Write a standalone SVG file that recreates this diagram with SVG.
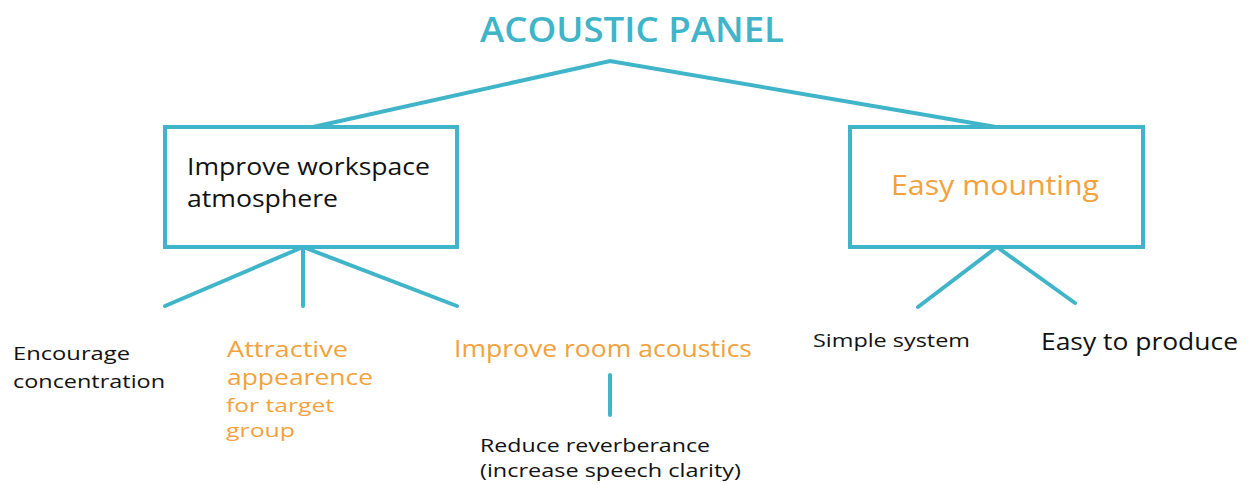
<svg xmlns="http://www.w3.org/2000/svg" width="1249" height="484" viewBox="0 0 1249 484">
<style>
text { font-family: "Open Sans", "Noto Sans", "Liberation Sans", sans-serif; }
.dark { fill: #111111; }
.orange { fill: #F2A23C; }
.teal { fill: #40B4C8; }
.box { fill: #ffffff; stroke: #40B4C8; stroke-width: 4; }
.conn line, .conn polyline { stroke: #40B4C8; stroke-width: 4; stroke-linecap: round; fill: none; }
</style>
<rect width="1249" height="484" fill="#ffffff"/>
<g id="connectors" class="conn">
  <polyline points="313,127 610,61 996,127"/>
  <line x1="303" y1="247" x2="165" y2="306"/>
  <line x1="303" y1="247" x2="303" y2="306"/>
  <line x1="303" y1="247" x2="457" y2="306"/>
  <line x1="997" y1="247" x2="918" y2="307"/>
  <line x1="997" y1="247" x2="1075" y2="303"/>
  <line x1="610" y1="375" x2="610" y2="415"/>
</g>
<g id="title">
  <text x="480" y="42" class="teal" font-size="34" font-weight="600" textLength="304" lengthAdjust="spacingAndGlyphs">ACOUSTIC PANEL</text>
</g>
<g id="node-workspace">
  <rect class="box" x="165" y="127" width="292" height="120"/>
  <text x="187" y="175" class="dark" font-size="23" textLength="243" lengthAdjust="spacingAndGlyphs">Improve workspace</text>
  <text x="187" y="207" class="dark" font-size="23" textLength="151" lengthAdjust="spacingAndGlyphs">atmosphere</text>
</g>
<g id="node-mounting">
  <rect class="box" x="850" y="127" width="293" height="120"/>
  <text x="891" y="195" class="orange" font-size="28" textLength="208" lengthAdjust="spacingAndGlyphs">Easy mounting</text>
</g>
<g id="node-concentration">
  <text x="13" y="360" class="dark" font-size="19" textLength="117" lengthAdjust="spacingAndGlyphs">Encourage</text>
  <text x="13" y="388" class="dark" font-size="19" textLength="152" lengthAdjust="spacingAndGlyphs">concentration</text>
</g>
<g id="node-attractive">
  <text x="227" y="357" class="orange" font-size="21" textLength="121" lengthAdjust="spacingAndGlyphs">Attractive</text>
  <text x="227" y="385" class="orange" font-size="21" textLength="146" lengthAdjust="spacingAndGlyphs">appearence</text>
  <text x="226" y="412" class="orange" font-size="19" textLength="108" lengthAdjust="spacingAndGlyphs">for target</text>
  <text x="226" y="437" class="orange" font-size="19" textLength="69" lengthAdjust="spacingAndGlyphs">group</text>
</g>
<g id="node-acoustics">
  <text x="454" y="357" class="orange" font-size="23" textLength="298" lengthAdjust="spacingAndGlyphs">Improve room acoustics</text>
</g>
<g id="node-reverberance">
  <text x="480" y="452" class="dark" font-size="19" textLength="230" lengthAdjust="spacingAndGlyphs">Reduce reverberance</text>
  <text x="480" y="477" class="dark" font-size="19" textLength="261" lengthAdjust="spacingAndGlyphs">(increase speech clarity)</text>
</g>
<g id="node-simple">
  <text x="813" y="347" class="dark" font-size="19" textLength="157" lengthAdjust="spacingAndGlyphs">Simple system</text>
</g>
<g id="node-produce">
  <text x="1041" y="350" class="dark" font-size="23" textLength="197" lengthAdjust="spacingAndGlyphs">Easy to produce</text>
</g>
</svg>
